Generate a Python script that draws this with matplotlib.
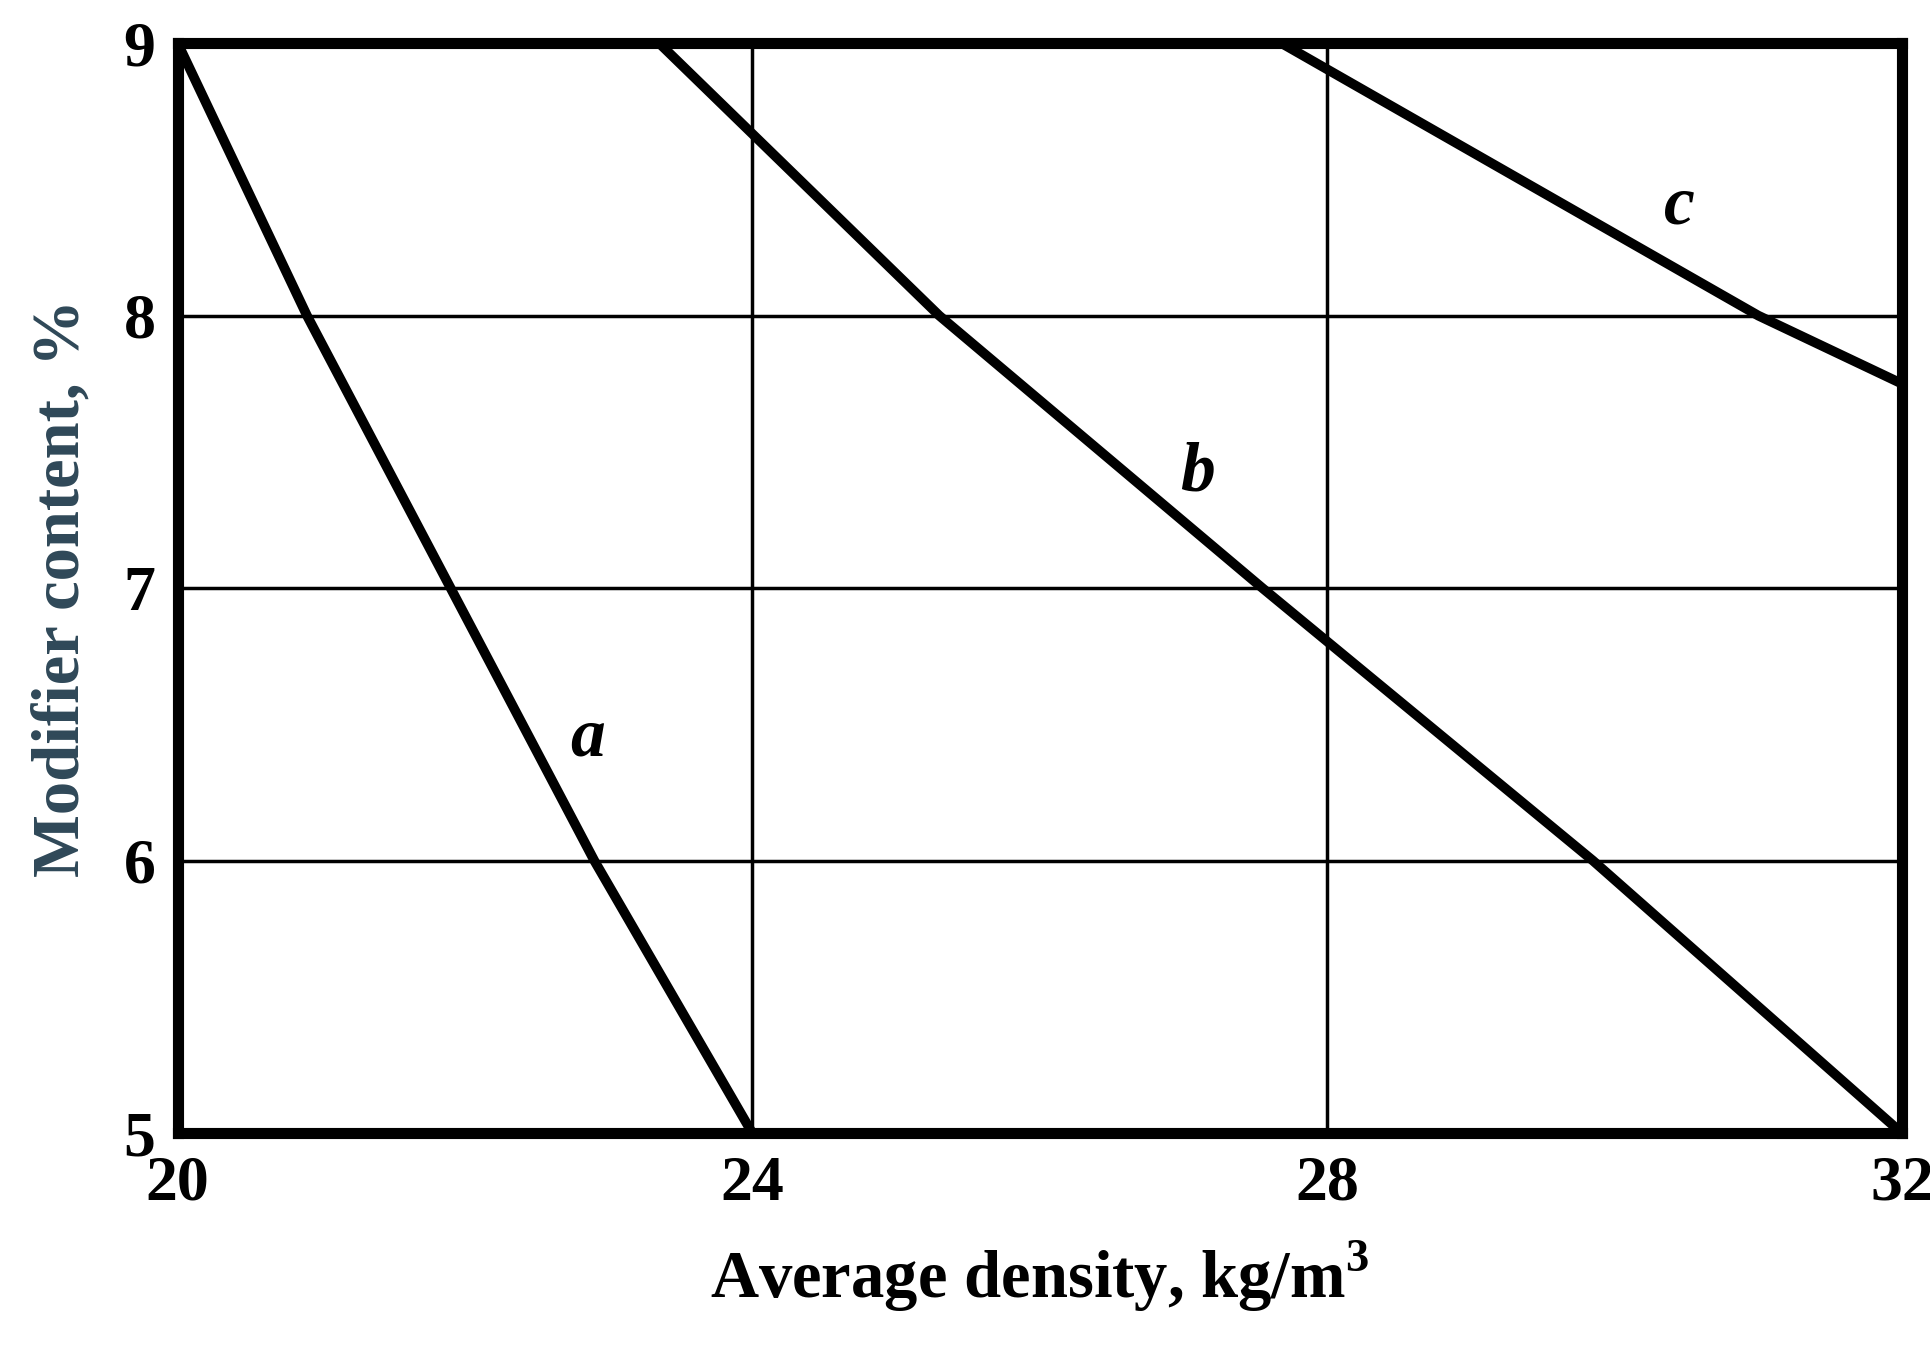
import matplotlib
matplotlib.use("Agg")
import matplotlib.pyplot as plt

# curves (density, modifier content)
a_x = [20.0, 20.9, 21.9, 22.9, 24.0]
a_y = [9.0, 8.0, 7.0, 6.0, 5.0]
b_x = [23.35, 25.3, 27.55, 29.85, 32.0]
b_y = [9.0, 8.0, 7.0, 6.0, 5.0]
c_x = [27.68, 31.0, 32.0]
c_y = [9.0, 8.0, 7.75]

xticks = [20, 24, 28, 32]
yticks = [5, 6, 7, 8, 9]

plt.rcParams['font.family'] = ['Liberation Serif', 'DejaVu Serif']
plt.rcParams['mathtext.fontset'] = 'custom'
plt.rcParams['mathtext.rm'] = 'Liberation Serif'
plt.rcParams['mathtext.bf'] = 'Liberation Serif:bold'

fig = plt.figure(figsize=(19.31, 13.46), dpi=100)
ax = fig.add_axes([0.092, 0.158, 0.893, 0.81])

for xs, ys in [(a_x, a_y), (b_x, b_y), (c_x, c_y)]:
    ax.plot(xs, ys, color='black', lw=7, solid_capstyle='butt', clip_on=True)

ax.text(22.85, 6.45, 'a', fontsize=50, fontweight='bold', style='italic', ha='center', va='center')
ax.text(27.1, 7.42, 'b', fontsize=50, fontweight='bold', style='italic', ha='center', va='center')
ax.text(30.45, 8.4, 'c', fontsize=50, fontweight='bold', style='italic', ha='center', va='center')

ax.set_xlim(20, 32)
ax.set_ylim(5, 9)
ax.set_xticks(xticks)
ax.set_yticks(yticks)
ax.grid(True, color='black', lw=2.5)
for s in ax.spines.values():
    s.set_linewidth(8)
ax.tick_params(length=0, labelsize=46, pad=16)
for lab in ax.get_xticklabels() + ax.get_yticklabels():
    lab.set_fontweight('bold')

ax.set_xlabel('Average density, kg/m$^\\mathbf{3}$', fontsize=48, fontweight='bold', labelpad=18)
ax.set_ylabel('Modifier content, %', fontsize=48, fontweight='bold', color='#2f4858', labelpad=22)

fig.savefig('out.png')
